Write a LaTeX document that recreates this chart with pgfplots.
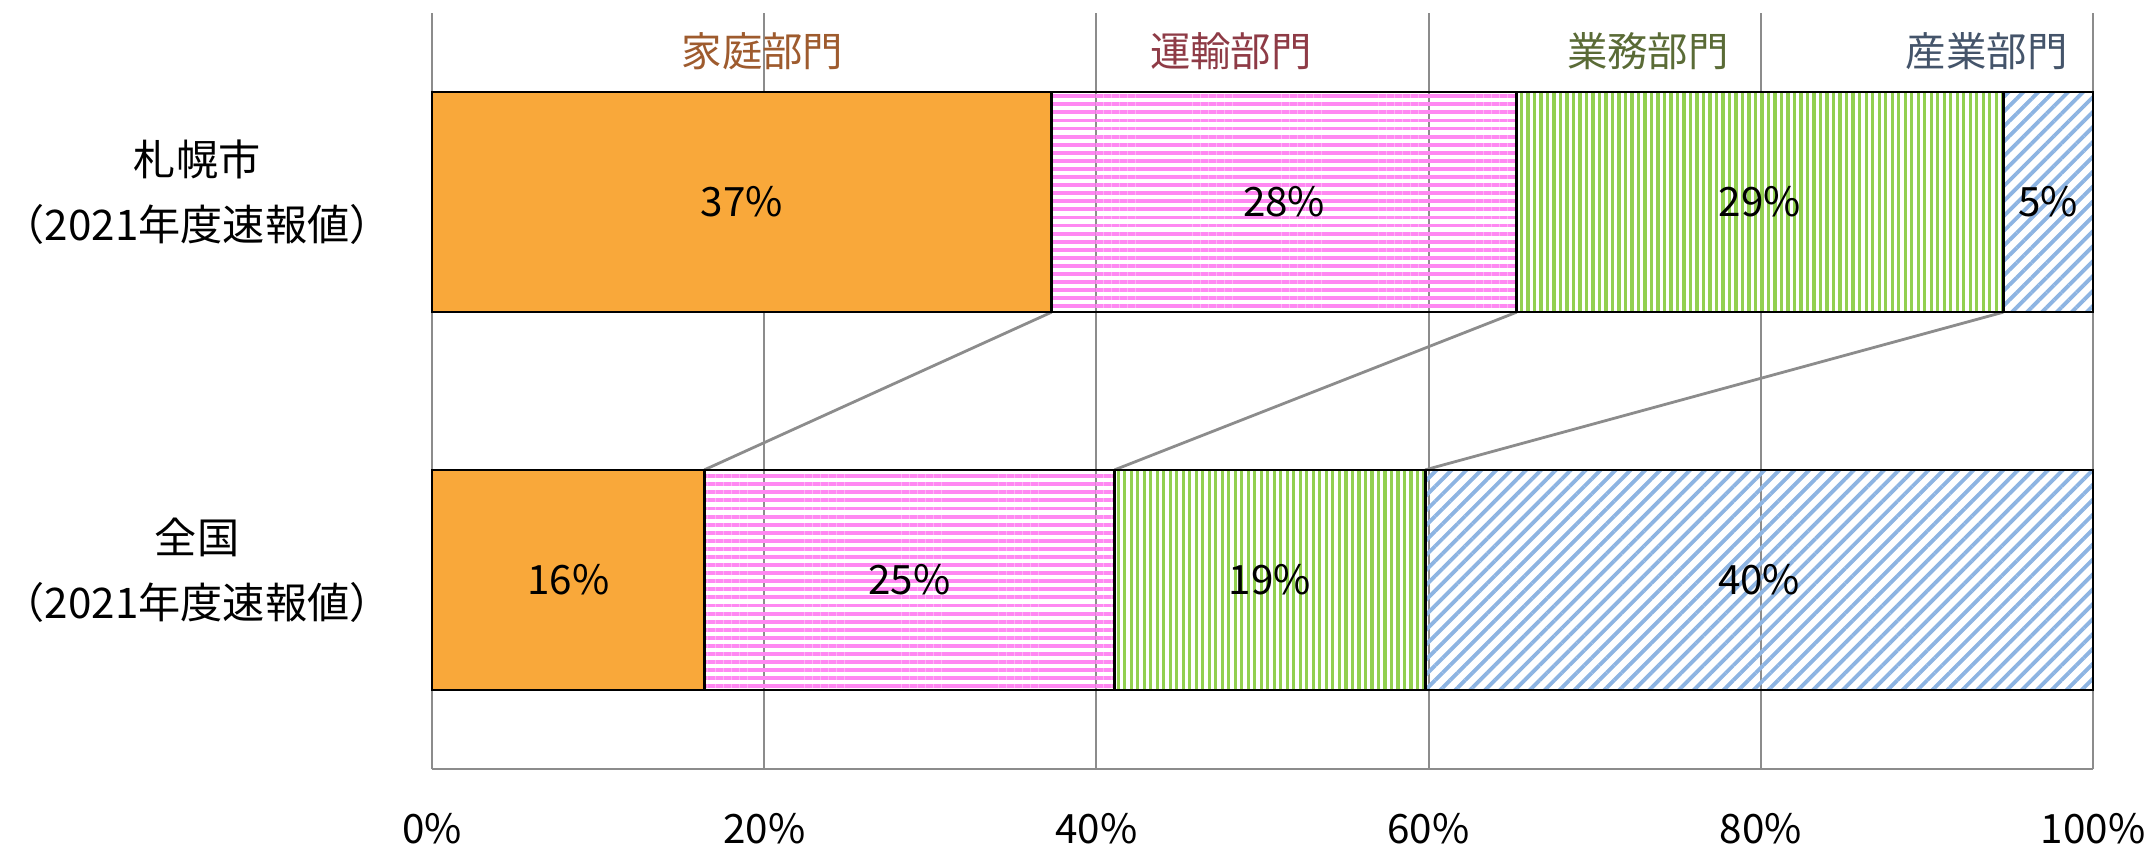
\documentclass[border=0pt]{standalone}
\usepackage{pgfplots}
\pgfplotsset{compat=1.18}
\usepackage{fontspec}
\setmainfont{Noto Sans CJK JP}
\usetikzlibrary{patterns.meta}

\definecolor{gridgray}{HTML}{8C8C8C}
\definecolor{katei}{HTML}{F9A83A}
\definecolor{unyu}{HTML}{FF88F2}
\definecolor{gyomu}{HTML}{92D050}
\definecolor{sangyo}{HTML}{8DB4E2}
\definecolor{kateitxt}{HTML}{9E5B2E}
\definecolor{unyutxt}{HTML}{8E3B46}
\definecolor{gyomutxt}{HTML}{5A6B36}
\definecolor{sangyotxt}{HTML}{44546A}

\begin{document}
\begin{tikzpicture}[font=\fontsize{11.5}{18.5}\selectfont]
	\begin{axis}[
		at={(0,0)}, anchor=south west,
		width=16.61cm,
		height=7.56cm,
		scale only axis,
		xbar stacked,
		bar width=0.583,
		xmin=0, xmax=100,
		ymin=-0.5, ymax=1.5,
		xtick={0,20,...,100},
		xticklabels={0\%,20\%,40\%,60\%,80\%,100\%},
		xticklabel style={anchor=base, yshift=-0.74cm},
		ytick={0,1},
		yticklabels={{全国\\（2021年度速報値）},{札幌市\\（2021年度速報値）}},
		yticklabel style={align=center, xshift=-0.28cm, yshift=0.1cm,
			font=\fontsize{12}{18.5}\selectfont},
		major tick length=0pt,
		axis x line*=bottom,
		axis y line*=left,
		axis line style={-, draw=gridgray, line width=0.7pt},
		xmajorgrids=true,
		grid style={gridgray, line width=0.6pt},
		clip=false,
		every axis plot/.append style={draw=black, line width=0.7pt},
		]
		% 家庭部門
		\addplot[fill=katei] coordinates {(37.3,1) (16.4,0)};
		% 運輸部門
		\addplot[pattern={Lines[angle=0, distance=2.3pt, line width=1.1pt]}, pattern color=unyu]
			coordinates {(28.0,1) (24.7,0)};
		% 業務部門
		\addplot[pattern={Lines[angle=90, distance=1.85pt, line width=0.9pt]}, pattern color=gyomu]
			coordinates {(29.3,1) (18.7,0)};
		% 産業部門
		\addplot[pattern={Lines[angle=45, distance=3pt, line width=1.1pt]}, pattern color=sangyo]
			coordinates {(5.4,1) (40.2,0)};
		% series lines
		\draw[gridgray, line width=0.8pt] (axis cs:37.3,0.7085) -- (axis cs:16.4,0.2915);
		\draw[gridgray, line width=0.8pt] (axis cs:65.3,0.7085) -- (axis cs:41.1,0.2915);
		\draw[gridgray, line width=0.8pt] (axis cs:94.6,0.7085) -- (axis cs:59.8,0.2915);
		% value positions (segment centres)
		\coordinate (s1) at (axis cs:18.65,1);
		\coordinate (s2) at (axis cs:51.3,1);
		\coordinate (s3) at (axis cs:79.95,1);
		\coordinate (s4) at (axis cs:97.3,1);
		\coordinate (z1) at (axis cs:8.2,0);
		\coordinate (z2) at (axis cs:28.75,0);
		\coordinate (z3) at (axis cs:50.45,0);
		\coordinate (z4) at (axis cs:79.9,0);
		% sector names
		\node[text=kateitxt] at (axis cs:19.9,1.4) {家庭部門};
		\node[text=unyutxt] at (axis cs:48.1,1.4) {運輸部門};
		\node[text=gyomutxt] at (axis cs:73.2,1.4) {業務部門};
		\node[text=sangyotxt] at (axis cs:93.6,1.4) {産業部門};
	\end{axis}
	\node at (s1) {37\%};
	\node at (s2) {28\%};
	\node at (s3) {29\%};
	\node at (s4) {5\%};
	\node at (z1) {16\%};
	\node at (z2) {25\%};
	\node at (z3) {19\%};
	\node at (z4) {40\%};
	\pgfresetboundingbox
	\path[use as bounding box] (-4.32cm,-0.79cm) rectangle (16.61cm+0.59cm,7.56cm+0.13cm);
\end{tikzpicture}
\end{document}
